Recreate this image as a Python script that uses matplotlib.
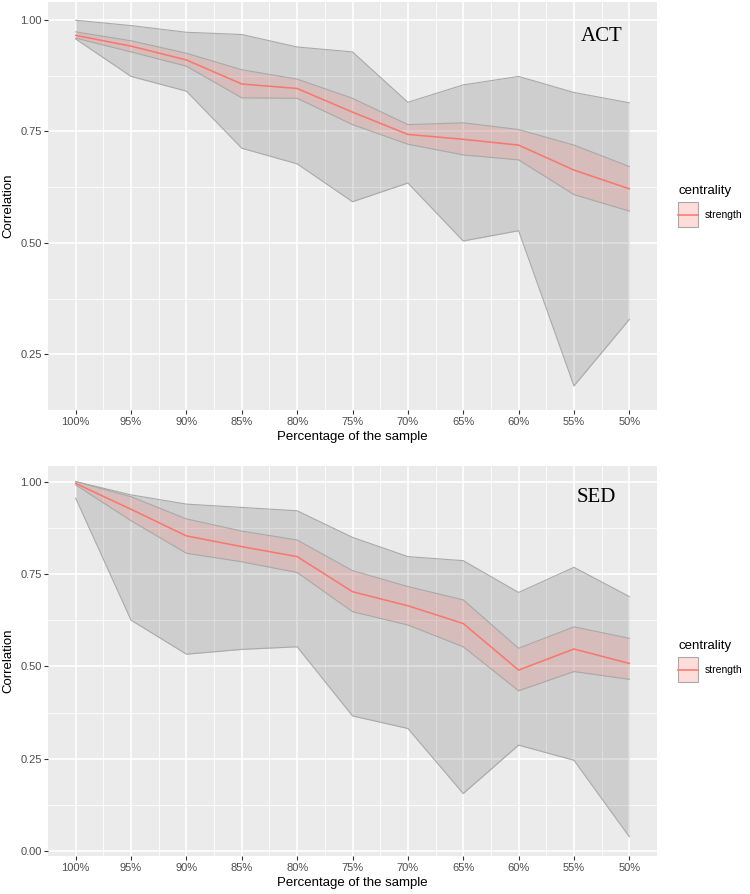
import matplotlib
matplotlib.use("Agg")
import matplotlib.pyplot as plt
import numpy as np
from matplotlib.patches import Rectangle
from matplotlib.lines import Line2D

plt.rcParams['font.family'] = ['Liberation Sans', 'DejaVu Sans']

labels = ['100%', '95%', '90%', '85%', '80%', '75%', '70%', '65%', '60%', '55%', '50%']

# ACT panel
act_mean = [0.965, 0.941, 0.910, 0.856, 0.846, 0.793, 0.743, 0.732, 0.719, 0.663, 0.621]
act_red_hi = [0.973, 0.953, 0.925, 0.888, 0.867, 0.824, 0.765, 0.769, 0.754, 0.719, 0.671]
act_red_lo = [0.959, 0.928, 0.896, 0.825, 0.824, 0.765, 0.721, 0.697, 0.686, 0.608, 0.571]
act_gray_hi = [0.999, 0.987, 0.972, 0.967, 0.939, 0.928, 0.815, 0.854, 0.873, 0.837, 0.814]
act_gray_lo = [0.957, 0.873, 0.840, 0.712, 0.677, 0.592, 0.634, 0.504, 0.527, 0.179, 0.328]

# SED panel
sed_mean = [0.995, 0.925, 0.853, 0.824, 0.797, 0.702, 0.664, 0.616, 0.490, 0.547, 0.508]
sed_red_hi = [1.000, 0.959, 0.899, 0.866, 0.842, 0.759, 0.716, 0.680, 0.549, 0.607, 0.576]
sed_red_lo = [0.991, 0.894, 0.806, 0.783, 0.754, 0.648, 0.612, 0.553, 0.434, 0.486, 0.465]
sed_gray_hi = [1.000, 0.964, 0.939, 0.930, 0.921, 0.849, 0.797, 0.786, 0.700, 0.768, 0.689]
sed_gray_lo = [0.955, 0.625, 0.533, 0.546, 0.553, 0.366, 0.332, 0.156, 0.287, 0.246, 0.039]

red = '#F8766D'
edge = '#A9A9A9'
x = np.arange(len(labels))


class KeyHandler:
    # ggplot-like key: pale red box with the line through its middle
    def legend_artist(self, legend, orig_handle, fontsize, handlebox):
        x0, y0 = handlebox.xdescent, handlebox.ydescent
        w, h = handlebox.width, handlebox.height
        tr = handlebox.get_transform()
        rect = Rectangle((-x0, -y0), w, h, facecolor=(0.973, 0.463, 0.427, 0.25),
                         edgecolor=edge, lw=0.8, transform=tr)
        line = Line2D([-x0, -x0 + w], [-y0 + h / 2] * 2, color=red, lw=1.1,
                      transform=tr)
        handlebox.add_artist(rect)
        handlebox.add_artist(line)
        return rect


fig = plt.figure(figsize=(7.5, 8.94), dpi=100)


def panel(rect, mean, rhi, rlo, ghi, glo, ylim, yticks, tag, tag_x, tag_y):
    ax = fig.add_axes(rect)
    ax.set_facecolor('#EBEBEB')
    ax.fill_between(x, glo, ghi, color='black', alpha=0.12, lw=0, zorder=3)
    ax.plot(x, ghi, color=edge, lw=0.8, zorder=3)
    ax.plot(x, glo, color=edge, lw=0.8, zorder=3)
    ax.fill_between(x, rlo, rhi, color=red, alpha=0.2, lw=0, zorder=4)
    ax.plot(x, rhi, color=edge, lw=0.8, zorder=4)
    ax.plot(x, rlo, color=edge, lw=0.8, zorder=4)
    line, = ax.plot(x, mean, color=red, lw=1.1, zorder=5)

    ax.set_xlim(-0.5, len(labels) - 0.5)
    ax.set_ylim(*ylim)
    ax.set_xticks(x)
    ax.set_xticklabels(labels)
    ax.set_xticks(x[:-1] + 0.5, minor=True)
    ax.set_yticks(yticks)
    ax.set_yticklabels(['%.2f' % v for v in yticks])
    minor_y = list(np.array(yticks[:-1]) + 0.125)
    if yticks[0] > 0:
        minor_y.append(yticks[0] - 0.125)
    ax.set_yticks(minor_y, minor=True)
    ax.grid(which='major', color='white', lw=1.2, zorder=1)
    ax.grid(which='minor', color='white', lw=0.6, zorder=1)
    ax.set_axisbelow(True)
    for s in ax.spines.values():
        s.set_visible(False)
    ax.tick_params(which='major', length=3, width=0.8, color='#333333',
                   labelcolor='#4D4D4D', labelsize=8, pad=2)
    ax.tick_params(axis='y', which='major', pad=1.5)
    ax.tick_params(which='minor', length=0)
    ax.set_xlabel('Percentage of the sample', fontsize=9.5, labelpad=3)
    ax.set_ylabel('Correlation', fontsize=9.5, labelpad=4)
    ax.text(tag_x, tag_y, tag, family='Liberation Serif', fontsize=15,
            ha='center', va='center', zorder=6)
    ax.legend([line], ['strength'], title='centrality', loc='center left',
              bbox_to_anchor=(1.035, 0.5), frameon=False, fontsize=7.5,
              title_fontsize=9.5, alignment='left', handlelength=1.9,
              handleheight=3.3, handletextpad=0.6, borderaxespad=0,
              borderpad=0, handler_map={line: KeyHandler()})
    return ax


panel([0.064, 0.5414, 0.812, 0.4564], act_mean, act_red_hi, act_red_lo,
      act_gray_hi, act_gray_lo, (0.137, 1.04), [0.25, 0.50, 0.75, 1.00],
      'ACT', 9.5, 0.962)
panel([0.064, 0.0425, 0.812, 0.4362], sed_mean, sed_red_hi, sed_red_lo,
      sed_gray_hi, sed_gray_lo, (-0.013, 1.042), [0.0, 0.25, 0.50, 0.75, 1.00],
      'SED', 9.4, 0.956)

fig.savefig('out.png', dpi=100)
